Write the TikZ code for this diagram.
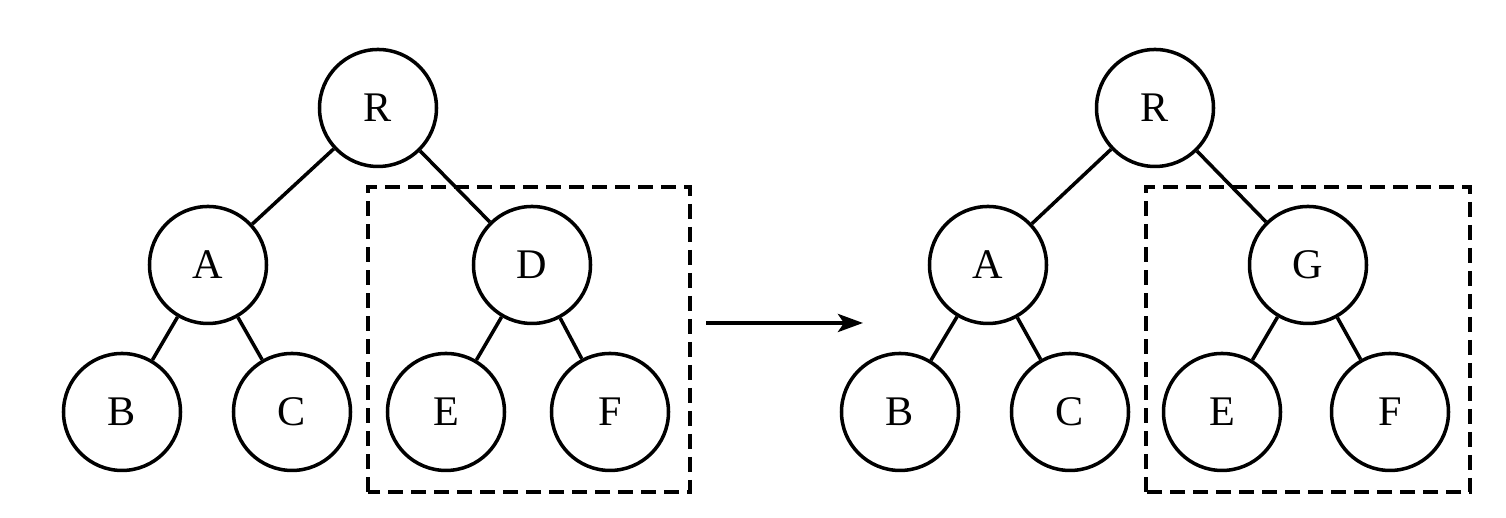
\documentclass[tikz,border=0pt]{standalone}
\usepackage{fontspec}
\setmainfont{Liberation Serif}
\usepackage{tikz}
\usetikzlibrary{arrows.meta}

\begin{document}
\begin{tikzpicture}[vertex/.style={draw, circle, line width=1pt, minimum size=1.17cm, inner sep=0pt, font=\fontsize{12}{14}\selectfont},
  frame/.style={draw, line width=1pt, dash pattern=on 1.5mm off .8mm},
  link/.style={line width=1pt}, >={Stealth[length=2.5mm, width=1.8mm, inset=.6mm]}]
\useasboundingbox (0,0) rectangle (15.06,5.18);
% tree before
\node[vertex] (r1) at (3.78,4.10) {R};
\node[vertex] (a1) at (2.08,2.53) {A};
\node[vertex] (d1) at (5.32,2.53) {D};
\node[vertex] (b1) at (1.22,1.06) {B};
\node[vertex] (c1) at (2.92,1.06) {C};
\node[vertex] (e1) at (4.46,1.06) {E};
\node[vertex] (f1) at (6.10,1.06) {F};
\draw[link] (r1) edge (a1) (r1) edge (d1);
\draw[link] (a1) edge (b1) (a1) edge (c1);
\draw[link] (d1) edge (e1) (d1) edge (f1);
\draw[frame] (3.68,0.26) rectangle (6.90,3.31);
% tree after
\node[vertex] (r2) at (11.55,4.10) {R};
\node[vertex] (a2) at (9.88,2.53) {A};
\node[vertex] (g2) at (13.08,2.53) {G};
\node[vertex] (b2) at (9.00,1.06) {B};
\node[vertex] (c2) at (10.70,1.06) {C};
\node[vertex] (e2) at (12.22,1.06) {E};
\node[vertex] (f2) at (13.90,1.06) {F};
\draw[link] (r2) edge (a2) (r2) edge (g2);
\draw[link] (a2) edge (b2) (a2) edge (c2);
\draw[link] (g2) edge (e2) (g2) edge (f2);
\draw[frame] (11.46,0.26) rectangle (14.70,3.31);
% replacement
\coordinate (s) at (7.06,1.95);
\coordinate (t) at (8.63,1.95);
\draw[->, line width=1.2pt] (s) -- (t);
\end{tikzpicture}
\end{document}
